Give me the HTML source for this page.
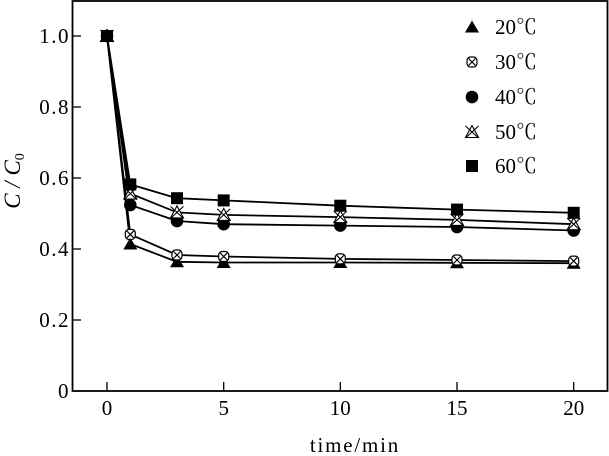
<!DOCTYPE html>
<html><head><meta charset="utf-8"><style>
html,body{margin:0;padding:0;background:#fff;}
svg{display:block;}
text{font-family:"Liberation Serif","Noto Serif CJK SC",serif;fill:#000;}
</style></head><body>
<svg width="609" height="456" viewBox="0 0 609 456" xmlns="http://www.w3.org/2000/svg">
<defs>
  <g id="tri"><polygon points="0,-6.5 7,5.5 -7,5.5" fill="#000"/></g>
  <g id="cx"><rect x="-5" y="-5" width="10" height="10" rx="3.5" fill="#fff" stroke="#000" stroke-width="1.2"/><path d="M-3.5,-3.5L3.5,3.5M3.5,-3.5L-3.5,3.5" stroke="#000" stroke-width="1.2"/></g>
  <g id="cir"><circle r="6.3" fill="#000"/></g>
  <g id="tx"><polygon points="0,-6.5 6.5,5.5 -6.5,5.5" fill="#fff" stroke="#000" stroke-width="1.1"/><path d="M-6.5,-6L6.5,6M6.5,-6L-6.5,6" stroke="#000" stroke-width="1.1"/></g>
  <g id="sq"><rect x="-6" y="-6" width="12" height="12" fill="#000"/></g>
</defs>
<!-- frame -->
<rect x="72.5" y="1" width="535" height="390" fill="none" stroke="#000" stroke-width="1.8"/>
<g stroke="#000" stroke-width="1.3">
  <line x1="72" y1="36" x2="81" y2="36"/>
  <line x1="72" y1="107" x2="81" y2="107"/>
  <line x1="72" y1="178" x2="81" y2="178"/>
  <line x1="72" y1="249" x2="81" y2="249"/>
  <line x1="72" y1="320" x2="81" y2="320"/>
  <line x1="107" y1="391" x2="107" y2="382"/>
  <line x1="223.7" y1="391" x2="223.7" y2="382"/>
  <line x1="340.3" y1="391" x2="340.3" y2="382"/>
  <line x1="457" y1="391" x2="457" y2="382"/>
  <line x1="573.7" y1="391" x2="573.7" y2="382"/>
</g>
<g font-size="21" text-anchor="end" letter-spacing="1.5">
  <text x="70" y="43">1.0</text>
  <text x="70" y="114">0.8</text>
  <text x="70" y="185">0.6</text>
  <text x="70" y="256">0.4</text>
  <text x="70" y="327">0.2</text>
  <text x="70" y="398">0</text>
</g>
<g font-size="21" text-anchor="middle">
  <text x="107" y="415">0</text>
  <text x="223.7" y="415">5</text>
  <text x="340.3" y="415">10</text>
  <text x="457" y="415">15</text>
  <text x="573.7" y="415">20</text>
  <text x="355" y="452" letter-spacing="1.8">time/min</text>
</g>
<text transform="translate(20,181) rotate(-90)" font-size="23" text-anchor="middle" font-style="italic">C / C<tspan font-size="14" dy="4" font-style="normal">0</tspan></text>
<g fill="none" stroke="#000" stroke-width="1.8">
  <polyline points="107,36 130.3,244 177,261.8 223.7,262.5 340.3,262.5 457,262.8 573.7,263.2"/>
  <polyline points="107,36 130.3,234.4 177,255 223.7,256.5 340.3,258.9 457,260 573.7,261.1"/>
  <polyline points="107,36 130.3,205 177,221 223.7,224.2 340.3,225.6 457,227 573.7,230.5"/>
  <polyline points="107,36 130.3,193.6 177,212.4 223.7,214.9 340.3,217.1 457,219.9 573.7,224.2"/>
  <polyline points="107,36 130.3,184.4 177,198.2 223.7,200.4 340.3,205.7 457,209.6 573.7,212.8"/>
</g>
<g>
  <use href="#tri" x="107" y="36"/><use href="#tri" x="130.3" y="244"/><use href="#tri" x="177" y="261.8"/><use href="#tri" x="223.7" y="262.5"/><use href="#tri" x="340.3" y="262.5"/><use href="#tri" x="457" y="262.8"/><use href="#tri" x="573.7" y="263.2"/>
  <use href="#cx" x="107" y="36"/><use href="#cx" x="130.3" y="234.4"/><use href="#cx" x="177" y="255"/><use href="#cx" x="223.7" y="256.5"/><use href="#cx" x="340.3" y="258.9"/><use href="#cx" x="457" y="260"/><use href="#cx" x="573.7" y="261.1"/>
  <use href="#cir" x="107" y="36"/><use href="#cir" x="130.3" y="205"/><use href="#cir" x="177" y="221"/><use href="#cir" x="223.7" y="224.2"/><use href="#cir" x="340.3" y="225.6"/><use href="#cir" x="457" y="227"/><use href="#cir" x="573.7" y="230.5"/>
  <use href="#tx" x="107" y="36"/><use href="#tx" x="130.3" y="193.6"/><use href="#tx" x="177" y="212.4"/><use href="#tx" x="223.7" y="214.9"/><use href="#tx" x="340.3" y="217.1"/><use href="#tx" x="457" y="219.9"/><use href="#tx" x="573.7" y="224.2"/>
  <use href="#sq" x="107" y="36"/><use href="#sq" x="130.3" y="184.4"/><use href="#sq" x="177" y="198.2"/><use href="#sq" x="223.7" y="200.4"/><use href="#sq" x="340.3" y="205.7"/><use href="#sq" x="457" y="209.6"/><use href="#sq" x="573.7" y="212.8"/>
</g>
<use href="#tri" x="472" y="27"/>
<use href="#cx" x="472" y="62"/>
<use href="#cir" x="472" y="97"/>
<use href="#tx" x="472" y="132"/>
<use href="#sq" x="472" y="166"/>
<g font-size="21">
  <text x="495" y="34">20℃</text>
  <text x="495" y="69">30℃</text>
  <text x="495" y="104">40℃</text>
  <text x="495" y="139">50℃</text>
  <text x="495" y="173">60℃</text>
</g>
</svg>
</body></html>
